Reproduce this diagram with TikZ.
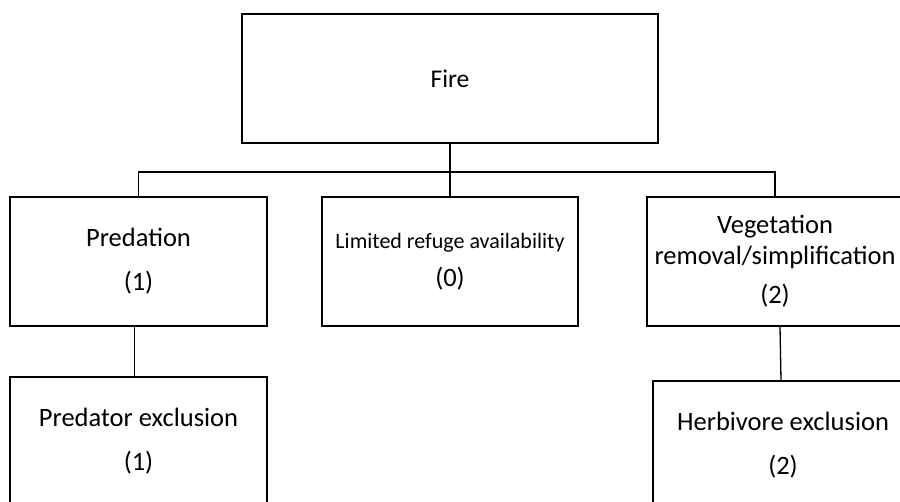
\documentclass[tikz,border=0pt]{standalone}
\usepackage{fontspec}
\setmainfont{Carlito}
\usepackage{tikz}
\usetikzlibrary{positioning,calc}

\begin{document}
\begin{tikzpicture}[x=1pt, y=-1pt,
  box/.style={rectangle, draw=black, line width=1.3pt, fill=white,
    minimum width=257pt, minimum height=129pt, align=center, inner sep=0pt},
  bigtxt/.style={font=\fontsize{26.5}{44}\selectfont},
  smalltxt/.style={font=\fontsize{22}{38}\selectfont},
  link/.style={line width=1.3pt, black}
]
  \useasboundingbox (0,0) rectangle (900,502);

  % Fire
  \node[box, minimum width=416pt, font=\fontsize{25.5}{30}\selectfont] (fire) at (450,78.5) {Fire};

  % first level
  \node[box, bigtxt] (pred) at (138.5,261.5) {Predation\\(1)};
  \node[box, smalltxt, minimum width=256pt] (refuge) at (450,261.5)
    {Limited refuge availability\\{\fontsize{26.5}{38}\selectfont(0)}};
  \node[box, minimum width=256pt, font=\fontsize{26.5}{30.5}\selectfont] (veg) at (775,261.5)
    {Vegetation\\removal/simplification\\[9pt](2)};

  % second level
  \node[box, bigtxt] (predex) at (138.5,441.5) {Predator exclusion\\(1)};
  \node[box, bigtxt, minimum width=260pt] (herbex) at (783,445.5) {Herbivore exclusion\\(2)};

  % Links
  \coordinate (split) at (450,172);
  \draw[link] (fire.south) -- (split);
  \draw[link] (split) -- (refuge.north);
  \draw[link] (split) -| (pred.north);
  \draw[link] (split) -| (veg.north);
  \draw[link] ([xshift=-4pt]pred.south) -- ([xshift=-4pt]predex.north);
  \draw[link] ([xshift=5pt]veg.south) -- ([xshift=-2pt]herbex.north);
\end{tikzpicture}
\end{document}
